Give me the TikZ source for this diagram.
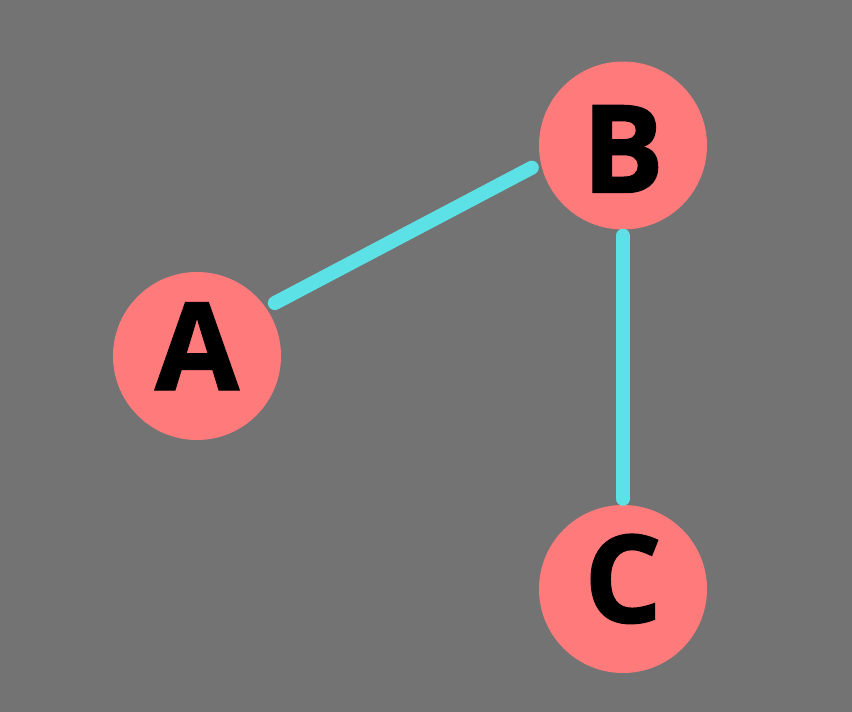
\documentclass[tikz,border=0pt]{standalone}
\usepackage{fontspec}
\setmainfont{Open Sans}
\usetikzlibrary{calc}
\definecolor{bggray}{HTML}{737373}
\definecolor{nodepink}{HTML}{FF7B7B}
\definecolor{edgecyan}{HTML}{5CE1E6}
\tikzset{
 vertex/.style={circle, fill=nodepink, minimum size=168pt, inner sep=0pt, text=black,
   font=\fontsize{122}{122}\selectfont\bfseries\addfontfeature{FakeBold=1.2}, text height=87pt, text depth=0pt},
 edge/.style={edgecyan, line width=14pt, line cap=round, shorten <=#1, shorten >=#1},
 edge/.default=10pt
}
\begin{document}
\begin{tikzpicture} [x=1pt,y=-1pt]
\fill[bggray] (0,0) rectangle (852,712);
\node[vertex, text depth=19pt] (a) at (197,356) {A};
\node[vertex, text height=94pt] (b) at (623,145.5) {B};
\node[vertex, text depth=20pt] (c) at (623,589) {C};
\draw[edge] (a.35)--(b.192);
\draw[edge=6pt] (b)--(c);
\end{tikzpicture}
\end{document}
